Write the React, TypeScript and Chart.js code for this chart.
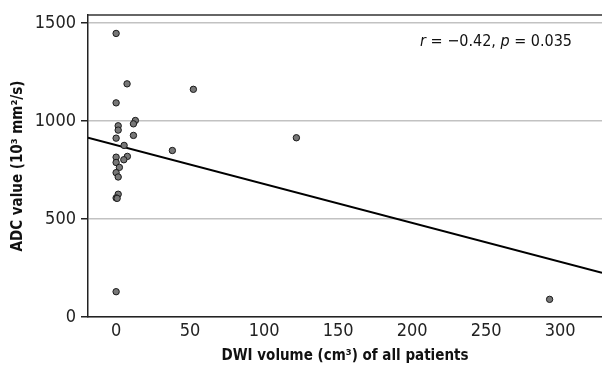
import { useEffect, useRef } from "react";
import { Chart, registerables } from "chart.js";

Chart.register(...registerables);

// DWI volume (cm³) per patient
const volumeX = [0, 7.4, 52.2, 0, 1.4, 1.4, 13, 11.7, 0, 11.7, 5.4, 38, 0, 7.6, 0, 5.2, 2.2, 0, 1.4, 1.4, 0, 0.7, 0, 121.8, 292.9];
// ADC value (10³ mm²/s) per patient
const adcY = [1446, 1189, 1161, 1092, 975, 953, 1002, 985, 912, 926, 875, 849, 815, 819, 788, 802, 763, 736, 714, 626, 607, 605, 129, 914, 90];

// regression line end points
const fitX = [-19, 328.3];
const fitY = [914, 225];

const xTicks = [0, 50, 100, 150, 200, 250, 300];
const yTicks = [0, 500, 1000, 1500];

const xTitle = "DWI volume (cm³) of all patients";
const yTitle = "ADC value (10³ mm²/s)";
const statParts = [
  { text: "r", italic: true },
  { text: " = −0.42, ", italic: false },
  { text: "p", italic: true },
  { text: " = 0.035", italic: false },
];

const FONT = '"Liberation Sans Narrow", "DejaVu Sans Condensed", "Roboto Condensed", sans-serif';

const framePlugin = {
  id: "frameAndStat",
  afterDraw(chart: any) {
    const { ctx, chartArea } = chart;
    ctx.save();
    ctx.strokeStyle = "#333";
    ctx.lineWidth = 1.5;
    ctx.beginPath();
    ctx.moveTo(chartArea.left, chartArea.top);
    ctx.lineTo(chartArea.right, chartArea.top);
    ctx.stroke();

    const size = 16;
    const fontFor = (it: boolean) => `${it ? "italic " : ""}${size}px ${FONT}`;
    let total = 0;
    for (const p of statParts) {
      ctx.font = fontFor(p.italic);
      total += ctx.measureText(p.text).width;
    }
    let x = chartArea.right - 30 - total;
    const y = 42;
    ctx.fillStyle = "#111";
    ctx.textBaseline = "middle";
    ctx.textAlign = "left";
    for (const p of statParts) {
      ctx.font = fontFor(p.italic);
      ctx.fillText(p.text, x, y);
      x += ctx.measureText(p.text).width;
    }
    ctx.restore();
  },
};

export default function App() {
  const ref = useRef<HTMLCanvasElement | null>(null);

  useEffect(() => {
    document.body.style.margin = "0";
    if (!ref.current) return;
    const points = volumeX.map((x, i) => ({ x, y: adcY[i] }));
    const line = fitX.map((x, i) => ({ x, y: fitY[i] }));
    const chart = new Chart(ref.current, {
      type: "scatter",
      data: {
        datasets: [
          {
            type: "scatter",
            data: points,
            pointRadius: 3.2,
            pointBackgroundColor: "#777",
            pointBorderColor: "#1a1a1a",
            pointBorderWidth: 1,
            order: 0,
          },
          {
            type: "line",
            data: line,
            borderColor: "#000",
            borderWidth: 2,
            pointRadius: 0,
            fill: false,
            order: 1,
          } as any,
        ],
      },
      options: {
        responsive: false,
        animation: false,
        layout: { autoPadding: false, padding: { top: 15, right: 0, left: 0, bottom: 0 } },
        plugins: { legend: { display: false }, tooltip: { enabled: false } },
        scales: {
          x: {
            type: "linear",
            min: -19,
            max: 328.3,
            afterBuildTicks: (s: any) => {
              s.ticks = xTicks.map((v) => ({ value: v }));
            },
            afterFit: (s: any) => {
              s.height = 50;
              s.paddingLeft = 0;
              s.paddingRight = 0;
            },
            grid: { display: false, drawTicks: false },
            border: { display: true, color: "#222", width: 1.5 },
            ticks: {
              font: { family: FONT, size: 18 },
              color: "#222",
              padding: 4,
              maxRotation: 0,
              autoSkip: false,
              callback: (v: any) => String(v),
            },
            title: {
              display: true,
              text: xTitle,
              color: "#111",
              font: { family: FONT, size: 15, weight: "bold" },
              padding: { top: 0, bottom: 2 },
            },
          },
          y: {
            type: "linear",
            min: 0,
            max: 1540,
            afterBuildTicks: (s: any) => {
              s.ticks = yTicks.map((v) => ({ value: v }));
            },
            afterFit: (s: any) => {
              s.width = 88;
              s.paddingTop = 0;
              s.paddingBottom = 0;
            },
            grid: {
              color: "#c2c2c2",
              lineWidth: 1.5,
              drawTicks: true,
              tickLength: 7,
              tickColor: "#222",
              tickWidth: 1.5,
            },
            border: { display: true, color: "#222", width: 1.5 },
            ticks: {
              font: { family: FONT, size: 18 },
              color: "#222",
              padding: 5,
              callback: (v: any) => String(v),
            },
            title: {
              display: true,
              text: yTitle,
              color: "#111",
              font: { family: FONT, size: 15, weight: "bold" },
              padding: { top: 9, bottom: 0 },
            },
          },
        },
      },
      plugins: [framePlugin],
    });
    return () => chart.destroy();
  }, []);

  return (
    <div style={{ position: "fixed", left: 0, top: 0, width: 602, height: 367, background: "#fff" }}>
      <canvas ref={ref} width={602} height={367} style={{ display: "block" }} />
    </div>
  );
}
